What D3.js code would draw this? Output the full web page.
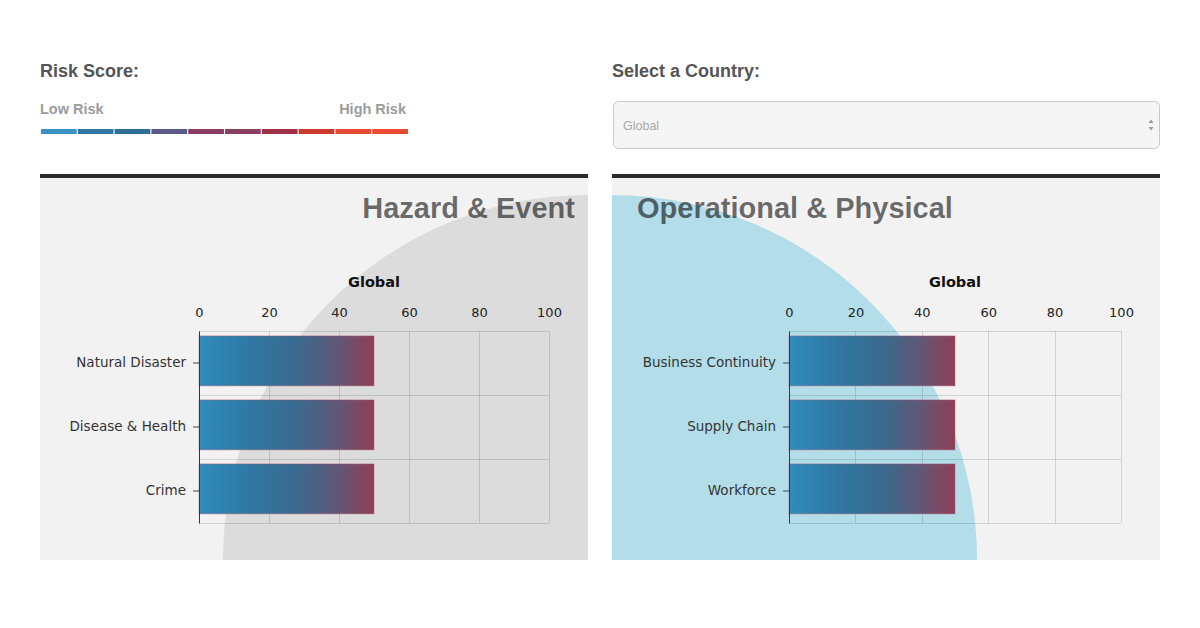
<!DOCTYPE html>
<html><head><meta charset="utf-8">
<script src="https://cdn.jsdelivr.net/npm/d3@7"></script>
<style>
body{margin:0;background:#fff;}
svg{display:block;}
</style>
</head><body>
<svg id="c" width="1200" height="628"></svg>
<script>
// ---- data ----
const riskColors = ["#3a93c2","#2f76a0","#2f6e96","#5b5a88","#8a3f62","#8a3f60","#a02f48","#cc3a2e","#e84b35","#ec4a33"];
const axisTicks = [0, 20, 40, 60, 80, 100];
const hazardCategories = ["Natural Disaster", "Disease & Health", "Crime"];
const hazardValues = [50, 50, 50];
const operationalCategories = ["Business Continuity", "Supply Chain", "Workforce"];
const operationalValues = [50, 50, 50];
const countryName = "Global";

const svg = d3.select("#c");
const defs = svg.append("defs");

// bar gradient
const grad = defs.append("linearGradient").attr("id", "barGrad")
  .attr("x1", "0").attr("x2", "1").attr("y1", "0").attr("y2", "0");
[[0, "#2f8cbb"], [0.3, "#2f77a2"], [0.55, "#386b8e"], [0.78, "#5e5878"], [1, "#8e3f55"]]
  .forEach(([o, c]) => grad.append("stop").attr("offset", o).attr("stop-color", c));

// ---- header: risk score legend ----
svg.append("text").attr("x", 40).attr("y", 77).text("Risk Score:")
  .attr("font-family", "Liberation Sans, Arial, sans-serif").attr("font-weight", "bold")
  .attr("font-size", 18).attr("fill", "#555");
svg.append("text").attr("x", 40).attr("y", 114).text("Low Risk")
  .attr("font-family", "Liberation Sans, Arial, sans-serif").attr("font-weight", "bold")
  .attr("font-size", 14.5).attr("fill", "#9c9c9c");
svg.append("text").attr("x", 406).attr("y", 114).attr("text-anchor", "end").text("High Risk")
  .attr("font-family", "Liberation Sans, Arial, sans-serif").attr("font-weight", "bold")
  .attr("font-size", 14.5).attr("fill", "#9c9c9c");
const legX = d3.scaleBand().domain(d3.range(riskColors.length)).range([41, 408]).paddingInner(0.03);
svg.append("g").selectAll("rect").data(riskColors).join("rect")
  .attr("x", (d, i) => legX(i)).attr("y", 129).attr("width", legX.bandwidth()).attr("height", 5)
  .attr("fill", d => d);

// ---- header: country select ----
svg.append("text").attr("x", 612).attr("y", 77).text("Select a Country:")
  .attr("font-family", "Liberation Sans, Arial, sans-serif").attr("font-weight", "bold")
  .attr("font-size", 18).attr("fill", "#555");
svg.append("rect").attr("x", 613.5).attr("y", 101.5).attr("width", 546).attr("height", 47)
  .attr("rx", 5).attr("fill", "#f5f5f5").attr("stroke", "#c9c9c9");
svg.append("text").attr("x", 623).attr("y", 130).text(countryName)
  .attr("font-family", "Liberation Sans, Arial, sans-serif").attr("font-size", 12.5).attr("fill", "#a8a8a8");
svg.append("path").attr("d", "M1148.5,123 L1151,119.5 L1153.5,123 Z M1148.5,127 L1151,130.5 L1153.5,127 Z").attr("fill", "#999");

// ---- panels ----
const panels = [
  { x: 40, w: 548, title: "Hazard & Event", anchor: "end", cats: hazardCategories, vals: hazardValues,
    circleCorner: "right", circleFill: "#dcdcdc", xr: [199, 549] },
  { x: 612, w: 548, title: "Operational & Physical", anchor: "start", cats: operationalCategories, vals: operationalValues,
    circleCorner: "left", circleFill: "#b3dde9", xr: [789, 1121] }
];
const pTop = 178, pBottom = 560;
const yRange = [331, 523];

panels.forEach((p, idx) => {
  const g = svg.append("g");
  const clipId = "clip" + idx;
  defs.append("clipPath").attr("id", clipId).append("rect")
    .attr("x", p.x).attr("y", pTop).attr("width", p.w).attr("height", pBottom - pTop);

  g.append("rect").attr("x", p.x).attr("y", 174).attr("width", p.w).attr("height", 4).attr("fill", "#2b2b2b");
  g.append("rect").attr("x", p.x).attr("y", pTop).attr("width", p.w).attr("height", pBottom - pTop).attr("fill", "#f2f2f2");
  g.append("circle").attr("clip-path", `url(#${clipId})`)
    .attr("cx", p.circleCorner === "right" ? p.x + p.w : p.x).attr("cy", pBottom).attr("r", 365)
    .attr("fill", p.circleFill);

  // title
  g.append("text").text(p.title)
    .attr("x", p.anchor === "end" ? p.x + 535 : p.x + 25).attr("y", 218)
    .attr("text-anchor", p.anchor)
    .attr("font-family", "Liberation Sans, Arial, sans-serif").attr("font-weight", "bold")
    .attr("font-size", 29).attr("fill", "#000").attr("fill-opacity", 0.57);

  const x = d3.scaleLinear().domain([0, 100]).range(p.xr);
  const yGrid = d3.scaleBand().domain(p.cats).range(yRange);
  const y = d3.scaleBand().domain(p.cats).range(yRange).paddingInner(0.22).paddingOuter(0.11).align(0.35);

  // subtitle
  g.append("text").text(countryName)
    .attr("x", (p.xr[0] + p.xr[1]) / 2).attr("y", 287).attr("text-anchor", "middle")
    .attr("font-family", "DejaVu Sans, Verdana, sans-serif").attr("font-weight", "bold")
    .attr("font-size", 14.5).attr("fill", "#111");

  // grid
  const grid = g.append("g").attr("stroke", "#000").attr("stroke-opacity", 0.13).attr("shape-rendering", "crispEdges");
  grid.selectAll(".v").data(axisTicks).join("line")
    .attr("x1", d => Math.round(x(d)) + 0.5).attr("x2", d => Math.round(x(d)) + 0.5)
    .attr("y1", yRange[0]).attr("y2", yRange[1]);
  const hLines = p.cats.map(c => yGrid(c)).concat([yRange[1]]);
  grid.selectAll(".h").data(hLines).join("line")
    .attr("x1", p.xr[0]).attr("x2", p.xr[1]).attr("y1", d => d + 0.5).attr("y2", d => d + 0.5);

  // top axis labels
  const xa = g.append("g").attr("transform", `translate(0,${yRange[0]})`)
    .call(d3.axisTop(x).tickValues(axisTicks).tickSize(0).tickPadding(14));
  xa.select(".domain").remove();
  xa.selectAll("text").attr("font-family", "DejaVu Sans, Verdana, sans-serif").attr("font-size", 13).attr("fill", "#222");

  // bars
  g.append("g").selectAll("rect").data(p.cats).join("rect")
    .attr("x", x(0)).attr("y", d => y(d))
    .attr("width", (d, i) => x(p.vals[i]) - x(0)).attr("height", y.bandwidth())
    .attr("fill", "url(#barGrad)").attr("stroke", "#b35c6e").attr("stroke-opacity", 0.45).attr("stroke-width", 1);

  // y axis
  const ya = g.append("g").attr("transform", `translate(${x(0)},0)`)
    .call(d3.axisLeft(yGrid).tickSize(6).tickSizeOuter(0).tickPadding(7));
  ya.select(".domain").attr("stroke", "#2d3a40");
  ya.selectAll(".tick line").attr("stroke", "#444");
  ya.selectAll("text").attr("font-family", "DejaVu Sans, Verdana, sans-serif").attr("font-size", 13.5).attr("fill", "#333");
});
</script>
</body></html>
